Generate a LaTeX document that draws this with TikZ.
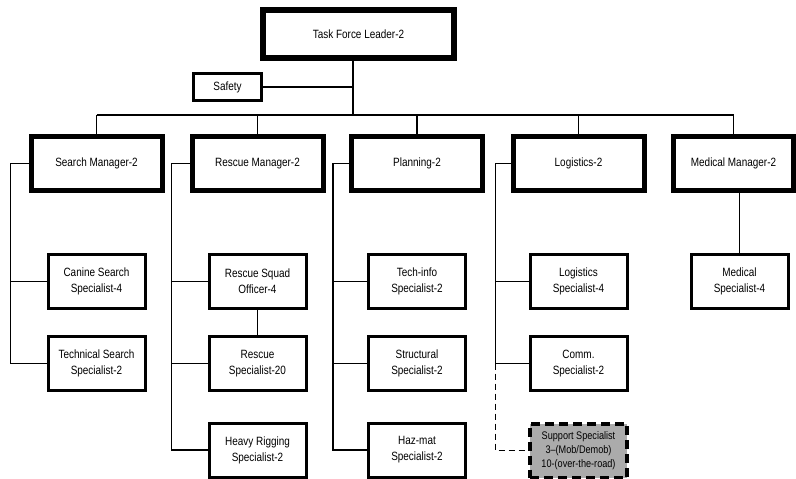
\documentclass[tikz,border=0pt]{standalone}
\usepackage{fontspec}
\setmainfont{Liberation Sans}[FakeStretch=0.83]
\usepackage{tikz}
\usetikzlibrary{positioning}

\begin{document}
\begin{tikzpicture}[
        x=1pt, y=-1pt,
        font=\fontsize{12}{16}\selectfont,
        lead/.style={rectangle, draw=black, line width=6pt, fill=white, align=center, minimum width=191pt, minimum height=48pt},
        mgr/.style={rectangle, draw=black, line width=5pt, fill=white, align=center, minimum width=131pt, minimum height=54pt},
        box/.style={rectangle, draw=black, line width=3pt, fill=white, align=center, minimum width=97pt, minimum height=54pt, inner sep=2pt},
        support/.style={box, fill=black!33, dash pattern=on 9pt off 5pt, line width=4pt, font=\fontsize{11}{14}\selectfont},
        link/.style={line width=1.6pt, color=black},
        dlink/.style={link, dash pattern=on 6pt off 4pt}
    ]
    \useasboundingbox (0,0) rectangle (796,479);

    % Leader
    \node[lead] (top) at (358.5,34) {Task Force Leader-2};
    \node[box, minimum width=68pt, minimum height=27pt] (safety) at (227.5,87) {Safety};
    \coordinate (bus) at (353,115);

    % Managers
    \node[mgr] (sm) at (96.5,163.5) {Search Manager-2};
    \node[mgr] (rm) at (257.5,163.5) {Rescue Manager-2};
    \node[mgr] (pl) at (417,163.5) {Planning-2};
    \node[mgr] (lg) at (578.5,163.5) {Logistics-2};
    \node[mgr, minimum width=120pt] (mm) at (733.5,163.5) {Medical Manager-2};

    % Search
    \node[box, below=60pt of sm] (cs) {Canine Search \\ Specialist-4};
    \node[box, below=25pt of cs] (ts) {Technical Search \\ Specialist-2};

    % Rescue
    \node[box, below=60pt of rm] (rs) {Rescue Squad \\ Officer-4};
    \node[box, below=25pt of rs] (rsp) {Rescue \\ Specialist-20};
    \node[box, below=29.5pt of rsp] (hr) {Heavy Rigging \\ Specialist-2};

    % Planning
    \node[box, below=60pt of pl] (ti) {Tech-info \\ Specialist-2};
    \node[box, below=25pt of ti] (st) {Structural \\ Specialist-2};
    \node[box, below=29.5pt of st] (hm) {Haz-mat \\ Specialist-2};

    % Logistics
    \node[box, below=60pt of lg] (ls) {Logistics \\ Specialist-4};
    \node[box, below=25pt of ls] (cm) {Comm. \\ Specialist-2};
    \node[support, below=29.5pt of cm] (sup) {Support Specialist \\ 3--(Mob/Demob) \\ 10-(over-the-road)};

    % Medical
    \node[box, below=60pt of mm, xshift=6pt] (ms) {Medical \\ Specialist-4};

    % Links
    \draw[link] (top.south -| bus) -- (bus);
    \draw[link] (safety.east) -- (safety.east -| bus);
    \draw[link] (sm.north |- bus) -- (mm.north |- bus);
    \foreach \m in {sm,rm,pl,lg,mm}
        \draw[link] (\m.north |- bus) -- (\m.north);

    \draw[link] (sm.west) -- ++(-18,0) coordinate (t1) |- (ts.west);
    \draw[link] (cs.west) -- (cs.west -| t1);

    \draw[link] (rm.west) -- ++(-18,0) coordinate (t2) |- (hr.west);
    \draw[link] (rs.west) -- (rs.west -| t2);
    \draw[link] (rsp.west) -- (rsp.west -| t2);
    \draw[link] (rs.south) -- (rsp.north);

    \draw[link] (pl.west) -- ++(-16,0) coordinate (t3) |- (hm.west);
    \draw[link] (ti.west) -- (ti.west -| t3);
    \draw[link] (st.west) -- (st.west -| t3);

    \draw[link] (lg.west) -- ++(-15,0) coordinate (t4) |- (cm.west);
    \draw[link] (ls.west) -- (ls.west -| t4);
    \draw[dlink] (cm.west -| t4) -- (t4 |- sup.west) -- (sup.west);

    \draw[link] (mm.south -| ms.north) -- (ms.north);

\end{tikzpicture}
\end{document}
